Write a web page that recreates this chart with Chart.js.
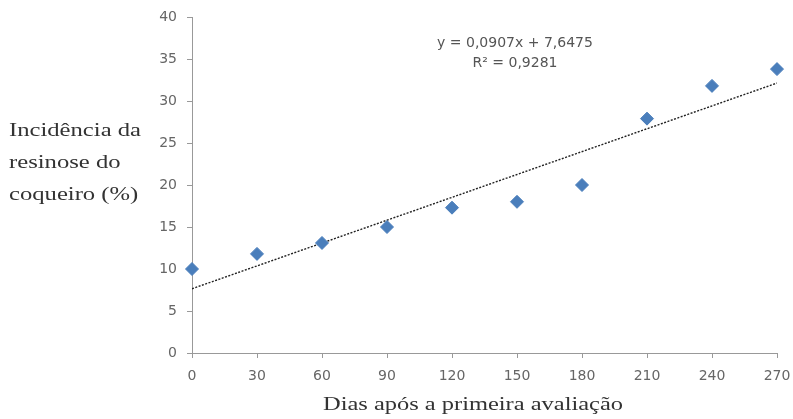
<!DOCTYPE html>
<html>
<head>
<meta charset="utf-8">
<script src="https://cdn.jsdelivr.net/npm/chart.js@4/dist/chart.umd.min.js"></script>
<style>
  html, body { margin: 0; padding: 0; background: #fff; }
  #wrap { width: 793px; height: 419px; }
</style>
</head>
<body>
<div id="wrap"><canvas id="grafico"></canvas></div>
<script>
// Dados
const dias = [0, 30, 60, 90, 120, 150, 180, 210, 240, 270];
const incidencia = [10, 11.8, 13.1, 15, 17.3, 18, 20, 27.9, 31.8, 33.8];
// Linha de tendência: y = 0,0907x + 7,6475
const tendenciaX = [0, 270];
const tendenciaY = [7.6475, 32.1365];
const equacao = ["y = 0,0907x + 7,6475", "R\u00b2 = 0,9281"];
const tituloY = ["Incid\u00eancia da", "resinose do", "coqueiro (%)"];
const tituloX = "Dias ap\u00f3s a primeira avalia\u00e7\u00e3o";

// texto serifado esticado na horizontal, como no original
function textoEsticado(c, t, x, y, esc, alinhar) {
  const w = c.measureText(t).width * esc;
  const x0 = alinhar === "center" ? x - w / 2 : x;
  c.save();
  c.translate(x0, y);
  c.scale(esc, 1);
  c.textAlign = "left";
  c.fillText(t, 0, 0);
  c.restore();
}

const textos = {
  id: "textos",
  afterDraw(chart) {
    const c = chart.ctx;
    c.save();
    c.fillStyle = "#333";
    c.font = "18px 'Liberation Serif', serif";
    c.textBaseline = "middle";
    const escY = 132 / c.measureText(tituloY[0]).width;
    tituloY.forEach((t, i) => textoEsticado(c, t, 9, 131 + i * 32, escY, "left"));
    const escX = 300 / c.measureText(tituloX).width;
    textoEsticado(c, tituloX, 473, 405, escX, "center");
    c.fillStyle = "#555";
    c.font = "14px 'DejaVu Sans', sans-serif";
    c.textAlign = "center";
    c.fillText(equacao[0], 515, 43);
    c.fillText(equacao[1], 515, 63);
    c.restore();
  }
};

const ctx = document.getElementById("grafico").getContext("2d");
new Chart(ctx, {
  type: "scatter",
  data: {
    datasets: [{
      data: dias.map((d, i) => ({ x: d, y: incidencia[i] })),
      pointStyle: "rectRot",
      pointRadius: 6.5,
      pointHoverRadius: 6.5,
      backgroundColor: "#4a7ebb",
      borderColor: "#4a7ebb",
      clip: false,
      order: 1
    }, {
      type: "line",
      data: tendenciaX.map((d, i) => ({ x: d, y: tendenciaY[i] })),
      borderColor: "#222",
      borderWidth: 1.4,
      borderDash: [2, 1.5],
      pointRadius: 0,
      fill: false,
      order: 2
    }]
  },
  options: {
    responsive: true,
    maintainAspectRatio: false,
    animation: false,
    layout: { padding: { left: 150, right: 16, top: 17, bottom: 34 } },
    plugins: { legend: { display: false }, tooltip: { enabled: false } },
    scales: {
      x: {
        type: "linear",
        min: 0,
        max: 270,
        afterFit: s => { s.height = 32; s.paddingLeft = 0; s.paddingRight = 0; },
        afterBuildTicks: s => { s.ticks = dias.map(v => ({ value: v })); },
        grid: { drawOnChartArea: false, tickLength: 5, color: "#999" },
        border: { color: "#999" },
        ticks: { color: "#666", font: { size: 14, family: "'DejaVu Sans', sans-serif" }, padding: 10, maxRotation: 0 }
      },
      y: {
        min: 0,
        max: 40,
        afterFit: s => { s.width = 42; s.paddingTop = 0; s.paddingBottom = 0; },
        grid: { drawOnChartArea: false, tickLength: 5, color: "#999" },
        border: { color: "#999" },
        ticks: { stepSize: 5, color: "#666", font: { size: 14, family: "'DejaVu Sans', sans-serif" }, padding: 10 }
      }
    }
  },
  plugins: [textos]
});
</script>
</body>
</html>
